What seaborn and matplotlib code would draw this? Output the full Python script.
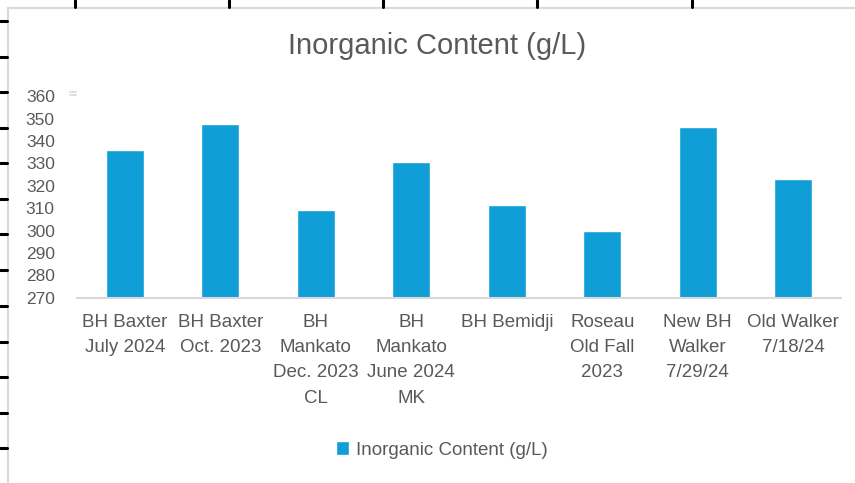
import matplotlib
matplotlib.use('Agg')
import matplotlib.pyplot as plt
from matplotlib.lines import Line2D
from matplotlib.patches import Patch
import seaborn as sns
import pandas as pd

# data
sites = ["BH Baxter\nJuly 2024", "BH Baxter\nOct. 2023", "BH\nMankato\nDec. 2023\nCL",
         "BH\nMankato\nJune 2024\nMK", "BH Bemidji", "Roseau\nOld Fall\n2023",
         "New BH\nWalker\n7/29/24", "Old Walker\n7/18/24"]
inorganic = [335.9, 347.5, 309.2, 330.6, 311.4, 299.8, 346.2, 323.0]
y_ticks = list(range(270, 361, 10))
series_name = "Inorganic Content (g/L)"

bar_color = "#0F9ED5"
text_color = "#595959"
border_color = "#D9D9D9"

sns.set_style("white")
plt.rcParams['font.family'] = ['Liberation Sans', 'DejaVu Sans']

W, H = 855, 483
fig = plt.figure(figsize=(W / 100, H / 100), dpi=100)


def px(x, y):
    # pixel coords (from top-left) -> figure fraction
    return x / W, 1 - y / H


ax = fig.add_axes([77 / W, 1 - 297.7 / H, 764 / W, 201.6 / H])
df = pd.DataFrame({"site": sites, "value": inorganic})
sns.barplot(data=df, x="site", y="value", color=bar_color, saturation=1,
            width=0.4, ax=ax)

ax.set_ylim(270, 360)
ax.set_yticks(y_ticks)
ax.set_xlim(-0.5, len(sites) - 0.5)
ax.set_xlabel("")
ax.set_ylabel("")
for s in ["left", "top", "right"]:
    ax.spines[s].set_visible(False)
ax.spines["bottom"].set_color(border_color)
ax.spines["bottom"].set_linewidth(1.5)
ax.tick_params(axis="y", length=0, labelsize=12.5, colors=text_color, pad=16)
ax.tick_params(axis="x", length=0, labelsize=13.5, colors=text_color, pad=12)
for lab in ax.get_xticklabels():
    lab.set_linespacing(1.62)

# title
tx, ty = px(437, 46)
fig.text(tx, ty, series_name, ha="center", va="center", fontsize=21,
         color=text_color)

# legend
lx, ly = px(442, 450)
fig.legend(handles=[Patch(facecolor=bar_color)], labels=[series_name],
           loc="center", bbox_to_anchor=(lx, ly), frameon=False,
           handlelength=0.7, handleheight=0.7, handletextpad=0.4,
           fontsize=13.5, labelcolor=text_color)

# chart border (spreadsheet chart frame)
x0, y0 = px(8, 8)
x1, y1 = px(855, 483)
fig.add_artist(Line2D([x0, x1], [y0, y0], color=border_color, lw=1.5,
                      transform=fig.transFigure))
fig.add_artist(Line2D([x0, x0], [y0, y1], color=border_color, lw=1.5,
                      transform=fig.transFigure))

# leftover gridline stub near the top label
for yy in (91.5, 94.5):
    a, b = px(70, yy)
    c, _ = px(76, yy)
    fig.add_artist(Line2D([a, c], [b, b], color=border_color, lw=1.2,
                          transform=fig.transFigure))

# spreadsheet cell marks peeking round the frame
for xx in [75, 229, 383, 537, 692]:
    a, b = px(xx, 0)
    _, d = px(xx, 7)
    fig.add_artist(Line2D([a, a], [b, d], color="black", lw=2.2,
                          transform=fig.transFigure))
for yy in [21, 57, 92, 128, 163, 199, 234, 270, 306, 342, 377, 413, 448]:
    a, b = px(0, yy)
    c, _ = px(7, yy)
    fig.add_artist(Line2D([a, c], [b, b], color="black", lw=2.2,
                          transform=fig.transFigure))

fig.savefig("out.png", dpi=100)
